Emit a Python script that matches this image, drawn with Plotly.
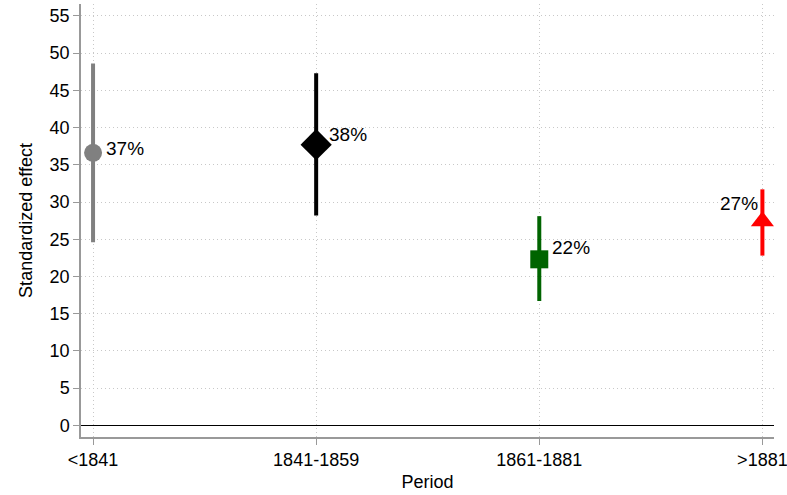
import plotly.graph_objects as go

# Estimated standardized effects by period, with confidence bounds
periods = ["<1841", "1841-1859", "1861-1881", ">1881"]
effect = [36.6, 37.7, 22.3, 27.4]
ci_low = [24.6, 28.2, 16.7, 22.8]
ci_high = [48.6, 47.3, 28.1, 31.7]
y_ticks = list(range(0, 60, 5))

# Per-period marker styling and label placement
colors = ["#808080", "#000000", "#006400", "#ff0000"]
symbols = ["circle", "diamond", "square", "triangle-up"]
sizes = [18, 24, 18, 20]
label_xanchor = ["left", "left", "left", "right"]
label_xshift = [11, 11, 11, -2]
label_yshift = [4, 10, 12, 18]

FONT = "Liberation Sans, Helvetica, Arial, sans-serif"
GRID_DASH = "1px,3px"

fig = go.Figure()

for i, p in enumerate(periods):
    fig.add_trace(go.Scatter(
        x=[p], y=[effect[i]],
        mode="markers",
        marker=dict(color=colors[i], symbol=symbols[i], size=sizes[i],
                    line=dict(width=0)),
        error_y=dict(type="data", symmetric=False,
                     array=[ci_high[i] - effect[i]],
                     arrayminus=[effect[i] - ci_low[i]],
                     color=colors[i], thickness=4, width=0),
        showlegend=False,
        hoverinfo="skip",
    ))
    fig.add_annotation(
        x=p, y=effect[i], text=f"{round(effect[i])}%",
        showarrow=False, xanchor=label_xanchor[i], yanchor="middle",
        xshift=label_xshift[i], yshift=label_yshift[i],
        font=dict(family=FONT, size=19, color="#000000"),
    )

fig.update_layout(
    width=787, height=495,
    margin=dict(l=81, r=13, t=4, b=58),
    paper_bgcolor="white", plot_bgcolor="white",
    font=dict(family=FONT, size=18, color="#000000"),
)

fig.update_xaxes(
    type="category", categoryorder="array", categoryarray=periods,
    range=[-0.054, 3.052], automargin=False,
    showline=True, linecolor="#999999", linewidth=1.5,
    ticks="outside", tickcolor="#999999", ticklen=6, tickwidth=1,
    showgrid=True, gridcolor="#c8c8c8", griddash=GRID_DASH, gridwidth=1,
    tickfont=dict(family=FONT, size=18),
    title=dict(text="Period", font=dict(family=FONT, size=18), standoff=6),
    zeroline=False,
)

fig.update_yaxes(
    range=[-1.57, 56.6], automargin=False,
    tickvals=y_ticks,
    showline=True, linecolor="#999999", linewidth=1.5,
    ticks="outside", tickcolor="#999999", ticklen=6, tickwidth=1,
    showgrid=True, gridcolor="#c8c8c8", griddash=GRID_DASH, gridwidth=1,
    zeroline=True, zerolinecolor="#000000", zerolinewidth=1.2,
    tickfont=dict(family=FONT, size=18),
    title=dict(text="Standardized effect", font=dict(family=FONT, size=18), standoff=12),
)

fig.write_html("out.html")
